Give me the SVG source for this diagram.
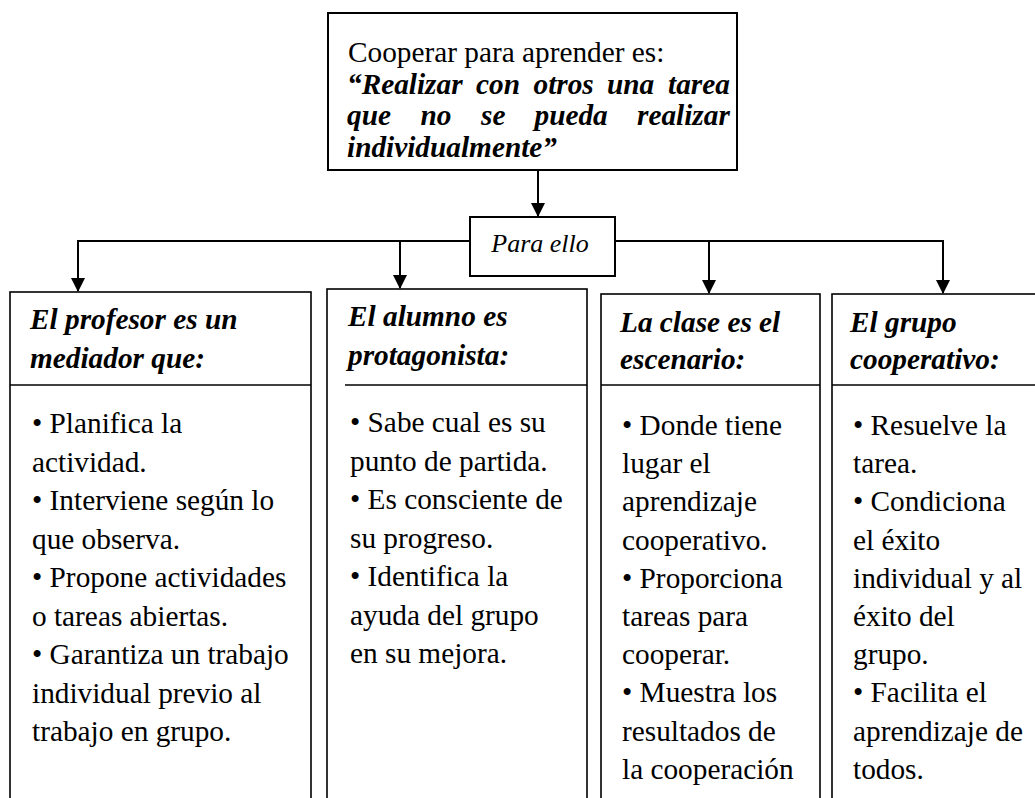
<svg xmlns="http://www.w3.org/2000/svg" width="1035" height="798" viewBox="0 0 1035 798">
<defs>
<marker id="arr" markerUnits="userSpaceOnUse" markerWidth="16" markerHeight="16" viewBox="0 0 14 16" refX="14" refY="8" orient="auto">
<path d="M0,0 L14,8 L0,16 Z" fill="#000"/>
</marker>
<style>
.box{fill:#fff;stroke:#000;stroke-width:1.6}
.sep{stroke:#000;stroke-width:1.6;fill:none}
.ln{stroke:#000;stroke-width:2;fill:none}
.t{font-family:"Liberation Serif","Times New Roman",serif;font-size:29.3px;fill:#000}
.h{font-family:"Liberation Serif","Times New Roman",serif;font-size:29.3px;font-weight:bold;font-style:italic;fill:#000}
.pe{font-family:"Liberation Serif","Times New Roman",serif;font-size:26px;font-style:italic;fill:#000}
</style>
</defs>
<rect width="1035" height="798" fill="#fff"/>

<g id="connectors">
<line class="ln" x1="538" y1="170" x2="538" y2="216"/>
<polyline class="ln" points="470,241 78,241 78,291"/>
<line class="ln" x1="400" y1="241" x2="400" y2="288"/>
<polyline class="ln" points="615,241 943,241 943,293"/>
<line class="ln" x1="709" y1="241" x2="709" y2="293"/>
<g fill="#000">
<path d="M531,203 L545,203 L538,217 Z"/>
<path d="M71,278 L85,278 L78,292 Z"/>
<path d="M393,275 L407,275 L400,289 Z"/>
<path d="M702,280 L716,280 L709,294 Z"/>
<path d="M936,280 L950,280 L943,294 Z"/>
</g>
</g>

<g id="top">
<rect x="328" y="13" width="409" height="157" style="fill:#fff;stroke:#000;stroke-width:2"/>
<text class="t" x="348" y="62">Cooperar para aprender es:</text>
<text class="h"><tspan x="347" y="94">“Realizar</tspan><tspan x="476" y="94">con</tspan><tspan x="533.5" y="94">otros</tspan><tspan x="607" y="94">una</tspan><tspan x="668" y="94">tarea</tspan></text>
<text class="h"><tspan x="347" y="125">que</tspan><tspan x="420.5" y="125">no</tspan><tspan x="481" y="125">se</tspan><tspan x="534.5" y="125">pueda</tspan><tspan x="637" y="125">realizar</tspan></text>
<text class="h" x="347" y="157">individualmente”</text>
</g>

<g id="para-ello">
<rect class="box" x="470" y="217" width="145" height="59" style="stroke-width:2"/>
<text class="pe" x="540" y="252" text-anchor="middle">Para ello</text>
</g>

<g id="profesor">
<rect class="box" x="10" y="292" width="301" height="520"/>
<line class="sep" x1="10" y1="385" x2="311" y2="385"/>
<text class="h" x="30" y="329">El profesor es un</text>
<text class="h" x="30" y="368">mediador que:</text>
<text class="t">
<tspan x="32" y="433">• Planifica la</tspan>
<tspan x="32" y="471.5">actividad.</tspan>
<tspan x="32" y="510">• Interviene según lo</tspan>
<tspan x="32" y="548.5">que observa.</tspan>
<tspan x="32" y="587">• Propone actividades</tspan>
<tspan x="32" y="625.5">o tareas abiertas.</tspan>
<tspan x="32" y="664">• Garantiza un trabajo</tspan>
<tspan x="32" y="702.5">individual previo al</tspan>
<tspan x="32" y="741">trabajo en grupo.</tspan>
</text>
</g>

<g id="alumno">
<rect class="box" x="327" y="289" width="260" height="520"/>
<line class="sep" x1="345" y1="385" x2="587" y2="385"/>
<text class="h" x="348" y="326">El alumno es</text>
<text class="h" x="348" y="365">protagonista:</text>
<text class="t">
<tspan x="350" y="432">• Sabe cual es su</tspan>
<tspan x="350" y="470.5">punto de partida.</tspan>
<tspan x="350" y="509">• Es consciente de</tspan>
<tspan x="350" y="547.5">su progreso.</tspan>
<tspan x="350" y="586">• Identifica la</tspan>
<tspan x="350" y="624.5">ayuda del grupo</tspan>
<tspan x="350" y="663">en su mejora.</tspan>
</text>
</g>

<g id="clase">
<rect class="box" x="601" y="294" width="219" height="520"/>
<line class="sep" x1="601" y1="385" x2="820" y2="385"/>
<text class="h" x="620" y="332">La clase es el</text>
<text class="h" x="620" y="369">escenario:</text>
<text class="t">
<tspan x="622" y="435">• Donde tiene</tspan>
<tspan x="622" y="473.2">lugar el</tspan>
<tspan x="622" y="511.4">aprendizaje</tspan>
<tspan x="622" y="549.6">cooperativo.</tspan>
<tspan x="622" y="587.8">• Proporciona</tspan>
<tspan x="622" y="626">tareas para</tspan>
<tspan x="622" y="664.2">cooperar.</tspan>
<tspan x="622" y="702.4">• Muestra los</tspan>
<tspan x="622" y="740.6">resultados de</tspan>
<tspan x="622" y="778.8">la cooperación</tspan>
</text>
</g>

<g id="grupo">
<rect class="box" x="832" y="294" width="230" height="520"/>
<line class="sep" x1="832" y1="385" x2="1040" y2="385"/>
<text class="h" x="850" y="332">El grupo</text>
<text class="h" x="850" y="369">cooperativo:</text>
<text class="t">
<tspan x="853" y="435">• Resuelve la</tspan>
<tspan x="853" y="473.2">tarea.</tspan>
<tspan x="853" y="511.4">• Condiciona</tspan>
<tspan x="853" y="549.6">el éxito</tspan>
<tspan x="853" y="587.8">individual y al</tspan>
<tspan x="853" y="626">éxito del</tspan>
<tspan x="853" y="664.2">grupo.</tspan>
<tspan x="853" y="702.4">• Facilita el</tspan>
<tspan x="853" y="740.6">aprendizaje de</tspan>
<tspan x="853" y="778.8">todos.</tspan>
</text>
</g>
</svg>
